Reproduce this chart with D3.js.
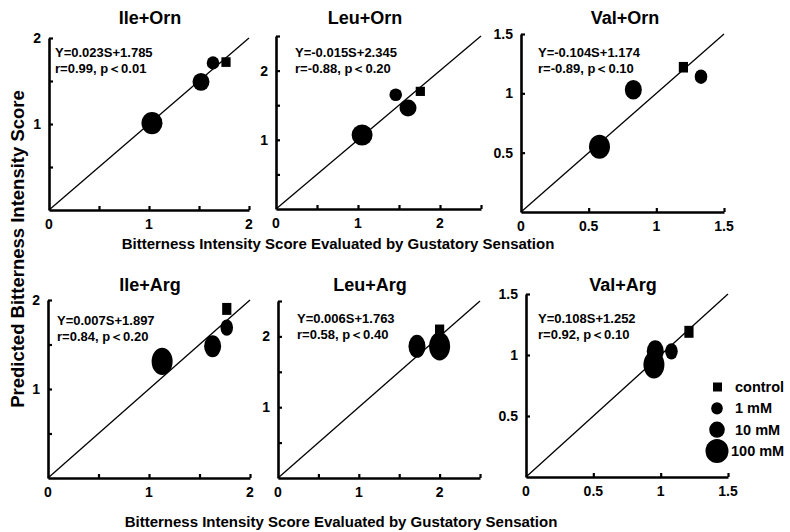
<!DOCTYPE html>
<html>
<head>
<meta charset="utf-8">
<script src="https://cdn.jsdelivr.net/npm/d3@7"></script>
<style>
  body { margin: 0; background: #fff; }
  svg text { font-family: "Liberation Sans", Arial, sans-serif; font-weight: bold; fill: #000; }
</style>
</head>
<body>
<svg id="chart" width="790" height="532"></svg>
<script>
// panel titles and regression text
const titles = ["Ile+Orn", "Leu+Orn", "Val+Orn", "Ile+Arg", "Leu+Arg", "Val+Arg"]
const equations = ["Y=0.023S+1.785", "Y=-0.015S+2.345", "Y=-0.104S+1.174",
                   "Y=0.007S+1.897", "Y=0.006S+1.763", "Y=0.108S+1.252"]
const stats = ["r=0.99, p\uFF1C0.01", "r=-0.88, p\uFF1C0.20", "r=-0.89, p\uFF1C0.10",
               "r=0.84, p\uFF1C0.20", "r=0.58, p\uFF1C0.40", "r=0.92, p\uFF1C0.10"]

// axis maxima and labelled ticks
const axisMax = [2, 2.5, 1.5, 2, 2.5, 1.5]
const xTickLabels = [[0, 1, 2], [0, 1, 2], [0, 0.5, 1, 1.5], [0, 1, 2], [0, 1, 2], [0, 0.5, 1, 1.5]]
const yTickLabels = [[1, 2], [1, 2], [0.5, 1, 1.5], [1, 2], [1, 2], [0.5, 1, 1.5]]

// concentrations, drawn largest first
const concentrations = ["100 mM", "10 mM", "1 mM", "control"]

// sensory score (x) and predicted score (y), one row per panel, order as concentrations
const sensoryScore = [
  [1.03, 1.52, 1.64, 1.77],
  [1.05, 1.61, 1.46, 1.76],
  [0.58, 0.83, 1.33, 1.20],
  [1.13, 1.63, 1.77, 1.77],
  [2.00, 1.72, 1.99, 2.00],
  [0.95, 0.96, 1.08, 1.21]
]
const predictedScore = [
  [1.01, 1.49, 1.71, 1.72],
  [1.07, 1.46, 1.65, 1.70],
  [0.55, 1.03, 1.14, 1.22],
  [1.31, 1.48, 1.69, 1.90],
  [1.86, 1.86, 1.93, 2.08],
  [0.92, 1.03, 1.03, 1.19]
]

// layout of each panel (pixels)
const panels = [
  {x0: 49,  x1: 249, y0: 210, y1: 38,  tx: 150, ty: 24,  ex: 55,  ey: 57,  stretch: 1.05},
  {x0: 276, x1: 481, y0: 209, y1: 36,  tx: 365, ty: 24,  ex: 295, ey: 57,  stretch: 1.0},
  {x0: 521, x1: 724, y0: 212, y1: 34,  tx: 625, ty: 24,  ex: 538, ey: 57,  stretch: 1.15},
  {x0: 48,  x1: 250, y0: 478, y1: 300, tx: 150, ty: 291, ex: 57,  ey: 325, stretch: 1.3},
  {x0: 278, x1: 480, y0: 478, y1: 301, tx: 370, ty: 291, ex: 297, ey: 323, stretch: 1.35},
  {x0: 526, x1: 728, y0: 477, y1: 294, tx: 623, ty: 291, ex: 538, ey: 323, stretch: 1.3}
]
const markerR = {"100 mM": 10.5, "10 mM": 8.5, "1 mM": 6.3, "control": 4.6}

const svg = d3.select("#chart")
const fmt = d => d === 0 ? "0" : d3.format("~g")(d)

panels.forEach(function(p, i) {
  const x = d3.scaleLinear().domain([0, axisMax[i]]).range([p.x0, p.x1])
  const y = d3.scaleLinear().domain([0, axisMax[i]]).range([p.y0, p.y1])
  const ticks = d3.range(0, axisMax[i] + 0.01, 0.5)
  const g = svg.append("g")

  // identity line
  g.append("line")
    .attr("x1", x(0)).attr("y1", y(0))
    .attr("x2", x(axisMax[i])).attr("y2", y(axisMax[i]))
    .attr("stroke", "#000").attr("stroke-width", 1.3)

  const xAxis = g.append("g")
    .attr("transform", "translate(0," + p.y0 + ")")
    .call(d3.axisBottom(x).tickValues(ticks.filter(t => t > 0)).tickSizeInner(-4).tickSizeOuter(0).tickFormat(""))
  const yAxis = g.append("g")
    .attr("transform", "translate(" + p.x0 + ",0)")
    .call(d3.axisLeft(y).tickValues(ticks.filter(t => t > 0)).tickSizeInner(-4).tickSizeOuter(0).tickFormat(""))
  g.selectAll(".domain").attr("stroke-width", 2.6)
  g.selectAll(".tick line").attr("stroke-width", 2.2)

  xAxis.selectAll(".lbl")
    .data(xTickLabels[i]).enter().append("text")
    .attr("x", d => x(d)).attr("y", 19)
    .attr("text-anchor", "middle").style("font-size", "14px")
    .text(fmt)
  yAxis.selectAll(".lbl")
    .data(yTickLabels[i]).enter().append("text")
    .attr("x", -8).attr("y", d => y(d) + 5)
    .attr("text-anchor", "end").style("font-size", "14px")
    .text(fmt)

  g.append("text").attr("x", p.tx).attr("y", p.ty)
    .attr("text-anchor", "middle").style("font-size", "18px")
    .text(titles[i])
  g.append("text").attr("x", p.ex).attr("y", p.ey)
    .style("font-size", "13px").text(equations[i])
  g.append("text").attr("x", p.ex).attr("y", p.ey + 16)
    .style("font-size", "13px").text(stats[i])

  concentrations.forEach(function(c, j) {
    const cx = x(sensoryScore[i][j]), cy = y(predictedScore[i][j])
    const r = markerR[c]
    if (c === "control") {
      g.append("rect")
        .attr("x", cx - r).attr("y", cy - r * p.stretch)
        .attr("width", 2 * r).attr("height", 2 * r * p.stretch)
        .attr("fill", "#000")
    } else {
      g.append("ellipse")
        .attr("cx", cx).attr("cy", cy)
        .attr("rx", r).attr("ry", r * p.stretch)
        .attr("fill", "#000")
    }
  })
})

// legend
const legendY = d3.scalePoint().domain(concentrations.slice().reverse()).range([387, 451])
const legend = svg.append("g")
concentrations.forEach(function(c) {
  const cy = legendY(c)
  if (c === "control") {
    legend.append("rect").attr("x", 713).attr("y", cy - 4.5).attr("width", 9).attr("height", 9).attr("fill", "#000")
  } else {
    const r = {"100 mM": 11.5, "10 mM": 7.8, "1 mM": 5.8}[c]
    legend.append("ellipse").attr("cx", 717).attr("cy", cy).attr("rx", r).attr("ry", r * 1.05).attr("fill", "#000")
  }
  legend.append("text").attr("x", c === "100 mM" ? 731 : 735).attr("y", cy + 5)
    .style("font-size", "14.5px").text(c)
})

// axis titles
svg.append("text")
  .attr("transform", "translate(24,249) rotate(-90)")
  .attr("text-anchor", "middle").style("font-size", "18.5px")
  .text("Predicted Bitterness Intensity Score")
svg.append("text").attr("x", 338).attr("y", 249)
  .attr("text-anchor", "middle").style("font-size", "15px")
  .text("Bitterness Intensity Score Evaluated by Gustatory Sensation")
svg.append("text").attr("x", 341).attr("y", 527)
  .attr("text-anchor", "middle").style("font-size", "15px")
  .text("Bitterness Intensity Score Evaluated by Gustatory Sensation")
</script>
</body>
</html>
